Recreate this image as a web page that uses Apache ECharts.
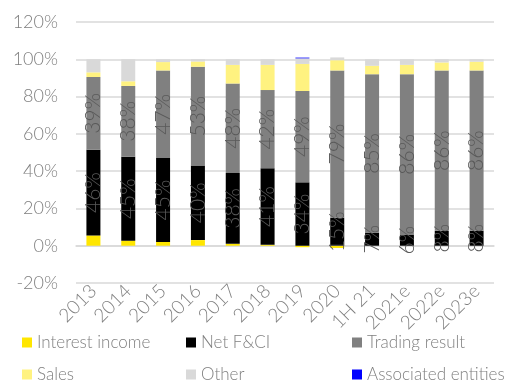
<!DOCTYPE html>
<html>
<head>
<meta charset="utf-8">
<script src="https://cdn.jsdelivr.net/npm/echarts@6/dist/echarts.min.js"></script>
<style>html,body{margin:0;padding:0;background:#fff}#c{width:507px;height:381px}</style>
</head>
<body>
<div id="c"></div>
<script>
var categories = ['2013','2014','2015','2016','2017','2018','2019','2020','1H 21','2021e','2022e','2023e'];
var interestIncome = [5.5, 2.7, 2, 3, 1, 0.5, -0.8, -1.2, 0, 0, 0, 0];
var netFCI = [46, 45, 45, 40, 38, 41, 34, 15, 7, 6, 8, 8];
var tradingResult = [39, 38, 47, 53, 48, 42, 49, 79, 85, 86, 86, 86];
var sales = [2.5, 2.5, 4.5, 2.8, 10, 13.5, 14.5, 5.5, 4.5, 5, 4.3, 4.7];
var other = [7, 11.8, 1.5, 1.2, 3, 3, 3, 1.5, 3.5, 3, 1.7, 1.3];
var associated = [0, 0, 0, 0, 0, 0, 0.4, 0, 0, 0, 0, 0];
var yTicks = {min: -20, max: 120, interval: 20};

var FONT = 'Lato';
var TXT = '#7f7f7f';
var chart = echarts.init(document.getElementById('c'));

function lbl() {
  return {
    show: true, position: 'inside', rotate: 90, color: '#595959',
    fontFamily: FONT, fontWeight: 300, fontSize: 21,
    formatter: function (p) { return Math.round(p.value) + '%'; }
  };
}
function ser(name, data, color, label) {
  var s = {name: name, type: 'bar', stack: 'a', data: data, barWidth: 14,
    itemStyle: {color: color}, emphasis: {disabled: true}};
  if (label) s.label = lbl(); else s.label = {show: false};
  return s;
}
var names = ['Interest income','Net F&CI','Trading result','Sales','Other','Associated entities'];
var pos = [[22,334],[186,334],[352,334],[22,366],[186,366],[352,366]];
var legends = names.map(function (n, i) {
  return {data: [n], left: pos[i][0], top: pos[i][1], padding: 0, itemWidth: 10, itemHeight: 10,
    icon: 'rect', selectedMode: false, itemGap: 4,
    textStyle: {color: TXT, fontFamily: FONT, fontWeight: 300, fontSize: 17}};
});

chart.setOption({
  animation: false,
  legend: legends,
  grid: {left: 76, right: 13, top: 22, bottom: 98, containLabel: false},
  xAxis: {
    type: 'category', data: categories,
    axisLine: {onZero: true, lineStyle: {color: '#d9d9d9', width: 1.5}},
    axisTick: {show: false},
    axisLabel: {rotate: 45, color: TXT, fontFamily: FONT, fontWeight: 300, fontSize: 19, margin: 5, interval: 0}
  },
  yAxis: {
    type: 'value', min: yTicks.min, max: yTicks.max, interval: yTicks.interval,
    axisLine: {show: false}, axisTick: {show: false},
    splitLine: {lineStyle: {color: '#d9d9d9', width: 1.5}},
    axisLabel: {color: TXT, fontFamily: FONT, fontWeight: 300, fontSize: 18, margin: 18,
      formatter: function (v) { return v + '%'; }}
  },
  series: [
    ser('Interest income', interestIncome, '#ffe600', false),
    ser('Net F&CI', netFCI, '#000000', true),
    ser('Trading result', tradingResult, '#808080', true),
    ser('Sales', sales, '#fff280', false),
    ser('Other', other, '#d9d9d9', false),
    ser('Associated entities', associated, '#0000ff', false)
  ]
});
</script>
</body>
</html>
